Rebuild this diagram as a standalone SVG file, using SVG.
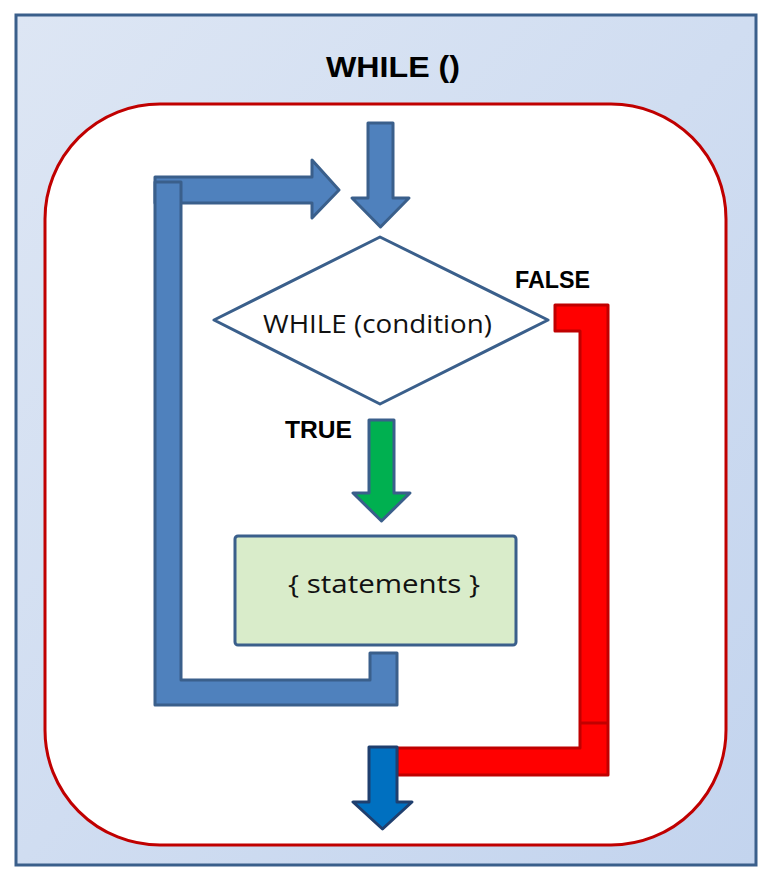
<svg xmlns="http://www.w3.org/2000/svg" width="766" height="881" viewBox="0 0 766 881">
  <defs>
    <linearGradient id="bg" x1="0" y1="0" x2="1" y2="1">
      <stop offset="0" stop-color="#dde6f4"/>
      <stop offset="1" stop-color="#c3d4ee"/>
    </linearGradient>
    <style>
      .blue{fill:#4f81bd;stroke:#3a5f8b;stroke-width:3;stroke-linejoin:round}
      .red{fill:#ff0000;stroke:#c00000;stroke-width:3;stroke-linejoin:round}
      .bold{font-family:"Liberation Sans",Arial,sans-serif;font-weight:bold;fill:#000}
      .reg{font-family:"Open Sans","Liberation Sans",sans-serif;fill:#111}
    </style>
  </defs>
  <rect width="766" height="881" fill="#ffffff"/>
  <g id="frame">
    <rect x="16" y="15" width="740" height="850" fill="url(#bg)" stroke="#3a5f8b" stroke-width="3"/>
    <text class="bold" x="393" y="77" font-size="30" text-anchor="middle" textLength="134" lengthAdjust="spacingAndGlyphs">WHILE ()</text>
  </g>
  <g id="loop-body">
    <rect x="45" y="104" width="681" height="741" rx="115" ry="115" fill="#ffffff" stroke="#c00000" stroke-width="3"/>
  </g>
  <g id="connectors">
    <polygon class="blue" points="155,177 312,177 312,160 339,190 312,218 312,203 155,203"/>
    <polygon class="blue" points="155,182 181,182 181,680 370,680 370,653 397,653 397,705 155,705"/>
    <polygon class="blue" points="368,123 393,123 393,198 409,198 380.5,227 352,198 368,198"/>
    <polygon points="369,420 394,420 394,493 410,493 381.5,521 353,493 369,493" fill="#00b050" stroke="#3a5f8b" stroke-width="3" stroke-linejoin="round"/>
    <polygon class="red" points="555,305 608,305 608,775 397,775 397,748 580,748 580,331 555,331"/>
    <line x1="580" y1="723" x2="608" y2="723" stroke="#c00000" stroke-width="3"/>
    <polygon points="369,747 397,747 397,802 412,802 382.5,829 353,802 369,802" fill="#0070c0" stroke="#1f3f6e" stroke-width="3" stroke-linejoin="round"/>
    <text class="bold" x="285" y="438" font-size="24" textLength="67" lengthAdjust="spacingAndGlyphs">TRUE</text>
    <text class="bold" x="515" y="288" font-size="24" textLength="75" lengthAdjust="spacingAndGlyphs">FALSE</text>
  </g>
  <g id="condition">
    <polygon points="380,237 548,320 380,404 214,320" fill="#ffffff" stroke="#3a5f8b" stroke-width="3" stroke-linejoin="round"/>
    <text class="reg" x="263" y="333" font-size="25" textLength="229" lengthAdjust="spacingAndGlyphs">WHILE (condition)</text>
  </g>
  <g id="statements">
    <rect x="235" y="536" width="281" height="109" rx="3" fill="#d9ecca" stroke="#3a5f8b" stroke-width="3"/>
    <text class="reg" x="288" y="593" font-size="25" textLength="192" lengthAdjust="spacingAndGlyphs">{  statements  }</text>
  </g>
</svg>
